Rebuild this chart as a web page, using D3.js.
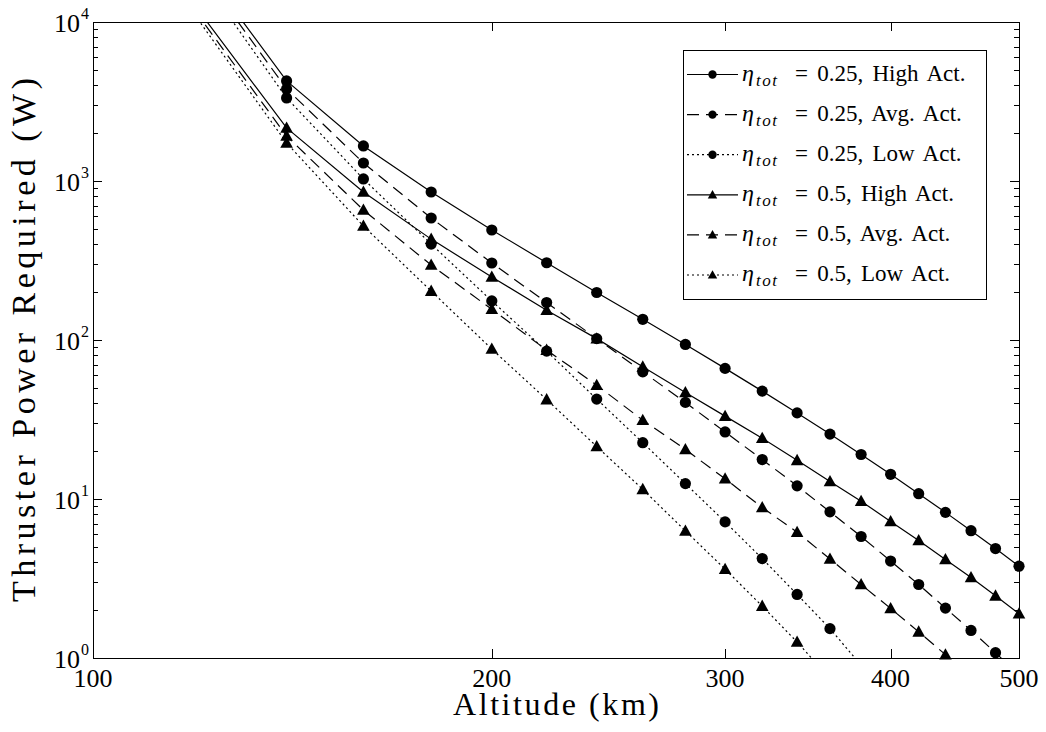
<!DOCTYPE html>
<html><head><meta charset="utf-8">
<script src="https://cdn.jsdelivr.net/npm/d3@7"></script>
<style>
body{margin:0;background:#fff}
svg{display:block}
text{font-family:"Liberation Serif","Times New Roman",serif;fill:#000}
</style>
</head><body>
<svg id="c" width="1046" height="732"></svg>
<script>
// ---------- data ----------
const altitudes = [100,140,160,180,200,220,240,260,280,300,320,340,360,380,400,420,440,460,480,500];
const eta025High = [189600,4258,1661,853,492,306,199,135,93.8,66.3,47.7,34.8,25.6,19.05,14.3,10.8,8.24,6.32,4.88,3.78];
const eta025Avg  = [181500,3794,1298,585,305,172,102,63.1,40.5,26.4,17.7,12.1,8.3,5.81,4.07,2.90,2.06,1.49,1.08,0.78];
const eta025Low  = [177900,3328,1030,401,176,85.1,42.5,22.6,12.5,7.18,4.22,2.51,1.53,0.90,null,null,null,null,null,null];
const eta05High  = [90600,2157,853,431,249,154,102,67.8,46.8,33.2,24.1,17.5,12.9,9.69,7.22,5.48,4.16,3.21,2.46,1.90];
const eta05Avg   = [88300,1919,657,296,156,86.4,52.0,31.3,20.5,13.4,8.84,6.18,4.19,2.90,2.05,1.46,1.05,0.76,null,null];
const eta05Low   = [86500,1734,521,203,87.7,42.2,21.4,11.5,6.30,3.62,2.12,1.26,0.74,null,null,null,null,null,null,null];
const etaLabels  = ["0.25","0.25","0.25","0.5","0.5","0.5"];
const actLabels  = ["High","Avg.","Low","High","Avg.","Low"];
const xTickValues = [100,200,300,400,500];
const yTickValues = [1,10,100,1000,10000];
const yTickExps   = ["0","1","2","3","4"];
const xTitle = "Altitude (km)";
const yTitle = "Thruster Power Required (W)";

// ---------- layout ----------
const L=93, R=1019, T=22, B=658;
const svg = d3.select("#c");
svg.append("rect").attr("width",1046).attr("height",732).attr("fill","#fff");
const x = d3.scaleLog().domain([100,500]).range([L,R]);
const y = d3.scaleLog().domain([1,1e4]).range([B,T]);

const DASH = "12,7", DOT = "2,3";
const series = [
  {vals:eta025High, marker:"circle",   dash:null},
  {vals:eta025Avg,  marker:"circle",   dash:DASH},
  {vals:eta025Low,  marker:"circle",   dash:DOT},
  {vals:eta05High,  marker:"triangle", dash:null},
  {vals:eta05Avg,   marker:"triangle", dash:DASH},
  {vals:eta05Low,   marker:"triangle", dash:DOT}
];

svg.append("clipPath").attr("id","plotclip")
  .append("rect").attr("x",L).attr("y",T).attr("width",R-L).attr("height",B-T);

function triPath(s){ return `M0,${-6.5*s}L${6.3*s},${4.8*s}L${-6.3*s},${4.8*s}Z`; }
function drawMarker(g, type, cx, cy, s){
  if(type==="circle") g.append("circle").attr("cx",cx).attr("cy",cy).attr("r",5.6*s).attr("fill","#000");
  else g.append("path").attr("d",triPath(s)).attr("transform",`translate(${cx},${cy})`).attr("fill","#000");
}

// ---------- lines ----------
const line = d3.line().defined(d=>d.v!=null).x(d=>x(d.a)).y(d=>y(d.v));
const gLines = svg.append("g").attr("clip-path","url(#plotclip)");
series.forEach(s=>{
  const pts = altitudes.map((a,i)=>({a, v:s.vals[i]}));
  gLines.append("path").datum(pts).attr("d",line)
    .attr("fill","none").attr("stroke","#000").attr("stroke-width",1.2)
    .attr("stroke-dasharray",s.dash);
});
// ---------- markers (drawn only if center inside the axes) ----------
const gMarks = svg.append("g");
series.forEach(s=>{
  altitudes.forEach((a,i)=>{
    const v = s.vals[i];
    if(v==null || v<1 || v>1e4 || a<100 || a>500) return;
    drawMarker(gMarks, s.marker, x(a), y(v), 1);
  });
});

// ---------- axes ----------
const gAx = svg.append("g").attr("stroke","#000").attr("stroke-width",1).attr("shape-rendering","crispEdges");
for(let d=1; d<1e4; d*=10){
  for(let k=2;k<=9;k++){
    const yy = Math.round(y(k*d))+0.5;
    gAx.append("line").attr("x1",L).attr("x2",L+5).attr("y1",yy).attr("y2",yy);
    gAx.append("line").attr("x1",R).attr("x2",R-5).attr("y1",yy).attr("y2",yy);
  }
}
yTickValues.forEach(v=>{
  const yy = Math.round(y(v))+0.5;
  gAx.append("line").attr("x1",L).attr("x2",L+9).attr("y1",yy).attr("y2",yy);
  gAx.append("line").attr("x1",R).attr("x2",R-9).attr("y1",yy).attr("y2",yy);
});
xTickValues.forEach(v=>{
  const xx = Math.round(x(v))+0.5;
  gAx.append("line").attr("x1",xx).attr("x2",xx).attr("y1",B).attr("y2",B-9);
  gAx.append("line").attr("x1",xx).attr("x2",xx).attr("y1",T).attr("y2",T+9);
});
gAx.append("rect").attr("x",L+0.5).attr("y",T+0.5).attr("width",R-L).attr("height",B-T).attr("fill","none");

// tick labels
yTickValues.forEach((v,i)=>{
  const yy = y(v);
  svg.append("text").attr("x",80).attr("y",yy+10).attr("text-anchor","end")
    .style("font-size","26px").text("10");
  svg.append("text").attr("x",81).attr("y",yy-3).attr("text-anchor","start")
    .style("font-size","16px").text(yTickExps[i]);
});
xTickValues.forEach(v=>{
  svg.append("text").attr("x",x(v)).attr("y",687).attr("text-anchor","middle")
    .style("font-size","26px").text(v);
});
// titles
svg.append("text").attr("x",(L+R)/2).attr("y",715).attr("text-anchor","middle")
  .style("font-size","32px").attr("textLength",206).attr("lengthAdjust","spacing").text(xTitle);
svg.append("text").attr("transform",`translate(35,${(T+B)/2}) rotate(-90)`)
  .attr("text-anchor","middle").style("font-size","34px")
  .attr("textLength",524).attr("lengthAdjust","spacing").text(yTitle);

// ---------- legend ----------
const lg = svg.append("g");
lg.append("rect").attr("x",683.5).attr("y",50.5).attr("width",303).attr("height",249)
  .attr("fill","#fff").attr("stroke","#000").attr("stroke-width",1).attr("shape-rendering","crispEdges");
series.forEach((s,i)=>{
  const ry = 74.5 + i*40.1;
  lg.append("line").attr("x1",687).attr("x2",738).attr("y1",ry).attr("y2",ry)
    .attr("stroke","#000").attr("stroke-width",1.2).attr("stroke-dasharray",s.dash);
  drawMarker(lg, s.marker, 712.5, ry, 0.75);
  lg.append("text").attr("x",742).attr("y",ry+6).style("font-size","24px").style("font-style","italic").text("η");
  lg.append("text").attr("x",756).attr("y",ry+11).style("font-size","17px").style("font-style","italic")
    .style("letter-spacing","1.5px").text("tot");
  lg.append("text").attr("x",795).attr("y",ry+6).style("font-size","23px").style("word-spacing","3.5px")
    .text(`= ${etaLabels[i]}, ${actLabels[i]} Act.`);
});
</script>
</body></html>
